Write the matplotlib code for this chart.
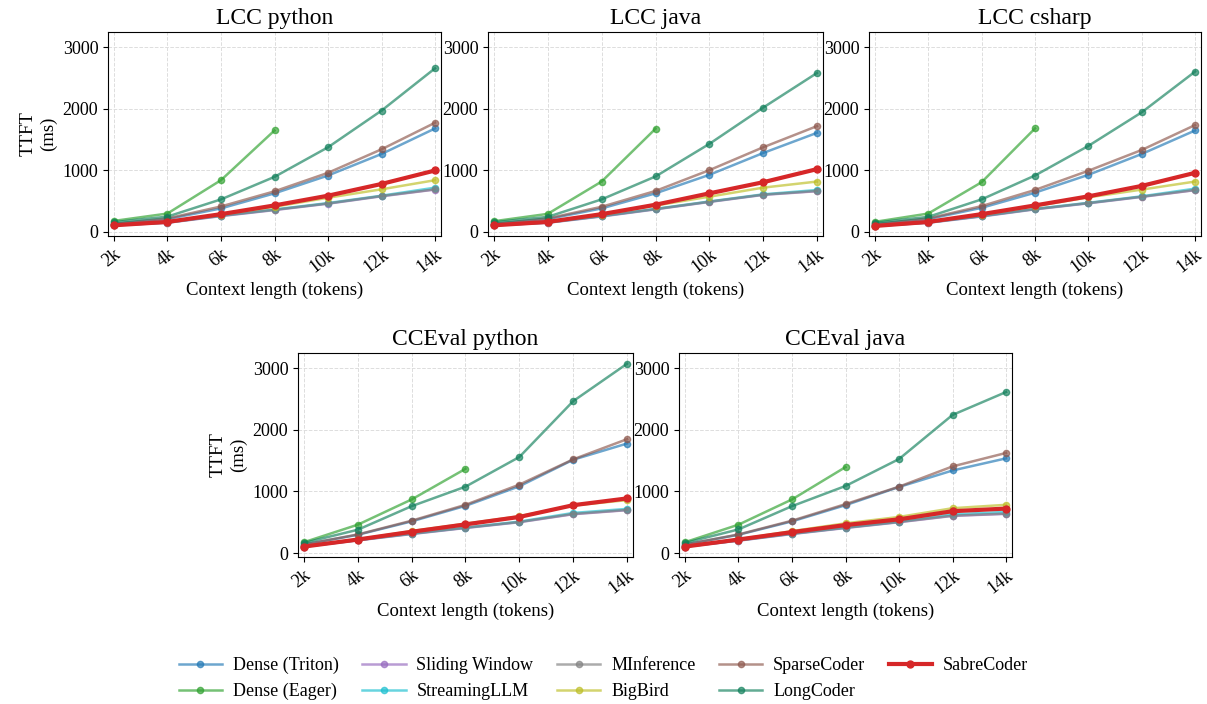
import matplotlib
matplotlib.use('Agg')
import matplotlib.pyplot as plt

plt.rcParams['font.family'] = ['Liberation Serif', 'DejaVu Serif']
plt.rcParams['mathtext.fontset'] = 'stix'

ctx = [2000, 4000, 6000, 8000, 10000, 12000, 14000]
ctx_labels = ['2k', '4k', '6k', '8k', '10k', '12k', '14k']

methods = ['Dense (Triton)', 'Dense (Eager)', 'Sliding Window', 'StreamingLLM', 'MInference',
           'BigBird', 'SparseCoder', 'LongCoder', 'SabreCoder']
colors = ['#1f77b4', '#2ca02c', '#9467bd', '#17becf', '#7f7f7f',
          '#bcbd22', '#8c564b', '#0f7f5a', '#d62728']

titles = ['LCC python', 'LCC java', 'LCC csharp', 'CCEval python', 'CCEval java']

# TTFT (ms) per benchmark; Dense (Eager) only up to 8k
lcc_python = {
    'Dense (Triton)': [130, 210, 383, 628, 918, 1268, 1683],
    'Dense (Eager)': [180, 300, 842, 1650],
    'Sliding Window': [108, 150, 258, 356, 460, 580, 690],
    'StreamingLLM': [110, 155, 268, 366, 470, 590, 721],
    'MInference': [109, 153, 262, 361, 464, 585, 694],
    'BigBird': [112, 160, 284, 410, 557, 694, 842],
    'SparseCoder': [132, 220, 415, 661, 962, 1344, 1776],
    'LongCoder': [160, 250, 530, 896, 1377, 1973, 2661],
    'SabreCoder': [109, 164, 290, 432, 590, 781, 1000],
}
lcc_java = {
    'Dense (Triton)': [130, 210, 383, 628, 929, 1284, 1612],
    'Dense (Eager)': [175, 295, 820, 1678],
    'Sliding Window': [108, 150, 252, 368, 488, 603, 663],
    'StreamingLLM': [110, 155, 260, 376, 496, 612, 683],
    'MInference': [109, 153, 257, 372, 492, 607, 667],
    'BigBird': [112, 160, 280, 430, 574, 721, 820],
    'SparseCoder': [132, 220, 410, 667, 1005, 1377, 1721],
    'LongCoder': [160, 246, 530, 902, 1432, 2022, 2585],
    'SabreCoder': [109, 164, 290, 443, 628, 809, 1022],
}
lcc_csharp = {
    'Dense (Triton)': [125, 210, 393, 639, 929, 1268, 1650],
    'Dense (Eager)': [165, 300, 809, 1683],
    'Sliding Window': [98, 150, 252, 368, 466, 570, 680],
    'StreamingLLM': [100, 155, 260, 376, 474, 580, 705],
    'MInference': [99, 153, 257, 372, 470, 574, 683],
    'BigBird': [100, 160, 280, 420, 563, 689, 820],
    'SparseCoder': [128, 220, 421, 683, 995, 1333, 1738],
    'LongCoder': [153, 246, 530, 918, 1399, 1945, 2607],
    'SabreCoder': [98, 164, 290, 432, 579, 749, 962],
}
cceval_python = {
    'Dense (Triton)': [137, 296, 514, 766, 1084, 1516, 1779],
    'Dense (Eager)': [175, 460, 870, 1368],
    'Sliding Window': [103, 205, 308, 406, 500, 630, 696],
    'StreamingLLM': [105, 210, 316, 414, 510, 651, 717],
    'MInference': [104, 208, 312, 410, 504, 635, 700],
    'BigBird': [106, 222, 356, 476, 597, 772, 859],
    'SparseCoder': [137, 301, 525, 783, 1111, 1522, 1850],
    'LongCoder': [164, 378, 761, 1078, 1560, 2468, 3076],
    'SabreCoder': [104, 219, 345, 465, 586, 777, 887],
}
cceval_java = {
    'Dense (Triton)': [137, 296, 514, 777, 1073, 1341, 1538],
    'Dense (Eager)': [175, 460, 870, 1396],
    'Sliding Window': [103, 200, 308, 406, 500, 603, 636],
    'StreamingLLM': [105, 205, 316, 414, 510, 629, 668],
    'MInference': [104, 203, 312, 410, 504, 607, 640],
    'BigBird': [106, 222, 356, 482, 586, 728, 783],
    'SparseCoder': [137, 301, 525, 794, 1078, 1407, 1626],
    'LongCoder': [164, 383, 761, 1089, 1527, 2244, 2616],
    'SabreCoder': [104, 219, 339, 454, 547, 679, 722],
}
datasets = [lcc_python, lcc_java, lcc_csharp, cceval_python, cceval_java]

W, H = 1207, 704
fig = plt.figure(figsize=(W / 100, H / 100), dpi=100)
# axes boxes in pixels: left, top, right, bottom
boxes = [(108, 32, 441, 236), (488, 32, 823, 236), (869, 32, 1201, 236),
         (298, 353, 633, 557), (679, 353, 1012, 557)]
axes = []
for (l, t, r, b) in boxes:
    axes.append(fig.add_axes([l / W, 1 - b / H, (r - l) / W, (b - t) / H]))

for i, ax in enumerate(axes):
    data = datasets[i]
    for m, c in zip(methods, colors):
        y = data[m]
        if m == 'SabreCoder':
            ax.plot(ctx[:len(y)], y, 'o-', color=c, lw=3, ms=5, label=m, zorder=5)
        else:
            ax.plot(ctx[:len(y)], y, 'o-', color=c, lw=1.8, ms=4.5, alpha=0.65, label=m)
    ax.set_title(titles[i], fontsize=17)
    ax.set_xlim(1780, 14220)
    ax.set_ylim(-65, 3250)
    ax.set_yticks([0, 1000, 2000, 3000])
    ax.set_xticks(ctx)
    ax.set_xticklabels(ctx_labels, rotation=38, ha='right', rotation_mode='anchor')
    ax.tick_params(labelsize=13)
    ax.grid(True, ls='--', lw=0.7, color='#dddddd')
    ax.set_xlabel('Context length (tokens)', fontsize=13.5)
    if i in (0, 3):
        ax.set_ylabel('TTFT\n(ms)', fontsize=13.5)

handles, labels = axes[0].get_legend_handles_labels()
fig.legend(handles, labels, loc='lower center', ncol=5, frameon=False, fontsize=13,
           bbox_to_anchor=(0.5, -0.018), columnspacing=1.3, handlelength=2.4,
           handletextpad=0.6, labelspacing=0.5)

fig.savefig('out.png', dpi=100)
